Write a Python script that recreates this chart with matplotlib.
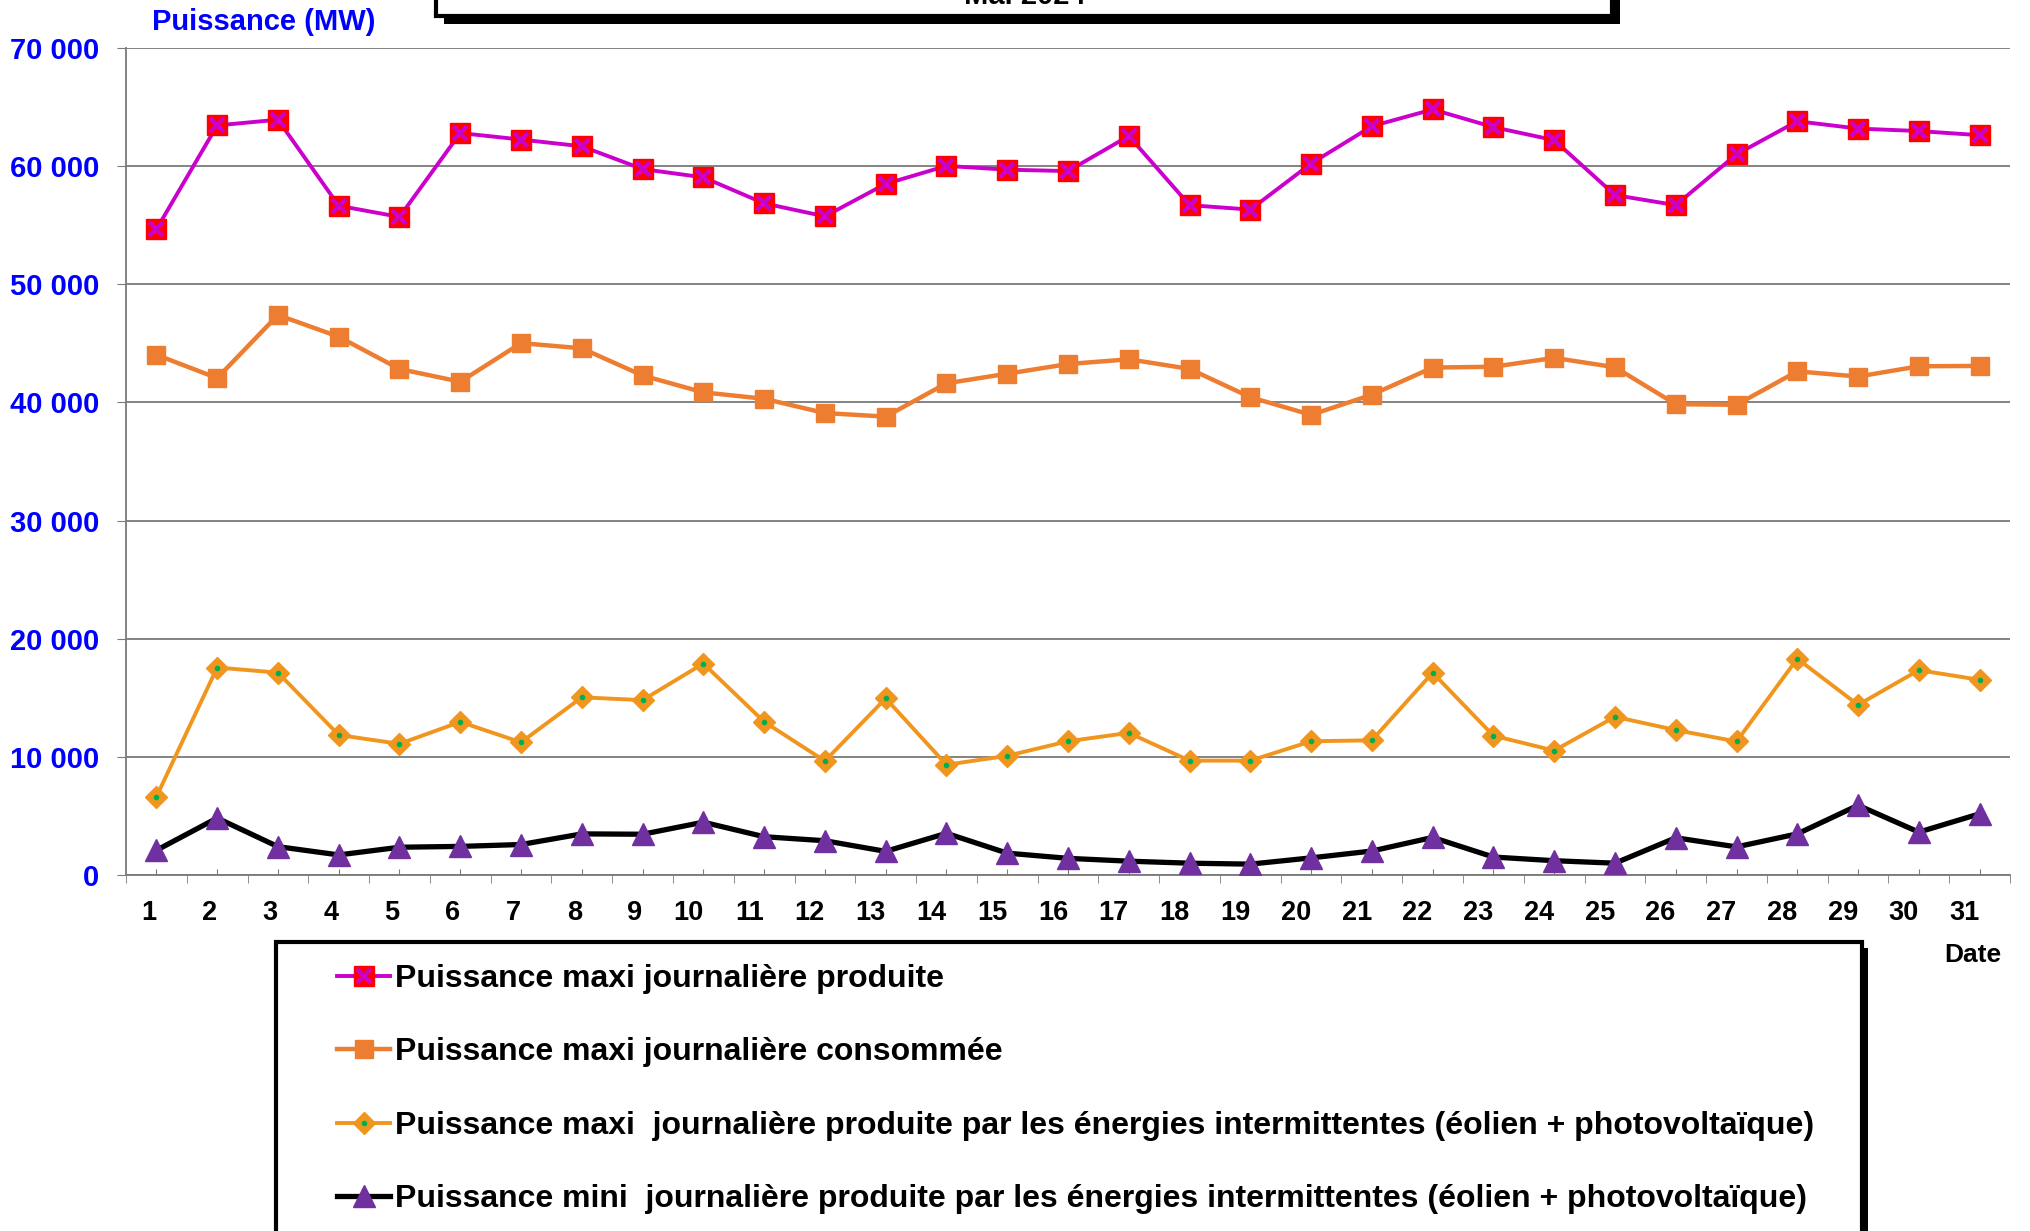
import numpy as np
import matplotlib.pyplot as plt
from matplotlib.patches import Rectangle
from matplotlib.legend_handler import HandlerTuple

plt.rcParams['font.family'] = ['Liberation Sans', 'DejaVu Sans']
plt.rcParams['font.weight'] = 'bold'

W, H = 2030, 1231

days = list(range(1, 32))
# puissance maxi journaliere produite (MW)
prod_max = [54650, 63450, 63930, 56650, 55700, 62800, 62250, 61680, 59750, 59050,
            56850, 55750, 58500, 60020, 59700, 59580, 62550, 56700, 56320, 60220,
            63380, 64800, 63300, 62200, 57550, 56700, 61000, 63800, 63180, 62970, 62620]
# puissance maxi journaliere consommee
cons_max = [44030, 42060, 47400, 45560, 42830, 41750, 45020, 44580, 42280, 40850,
            40310, 39100, 38800, 41620, 42430, 43250, 43650, 42840, 40440, 38950,
            40650, 42950, 43020, 43770, 42980, 39850, 39800, 42630, 42190, 43060, 43090]
# maxi intermittentes (eolien + PV)
inter_max = [6620, 17560, 17130, 11850, 11100, 12960, 11230, 15040, 14800, 17900,
             12970, 9650, 14950, 9330, 10090, 11320, 12030, 9680, 9680, 11320,
             11400, 17120, 11790, 10530, 13390, 12270, 11300, 18310, 14400, 17340, 16520]
# mini intermittentes
inter_min = [2090, 4820, 2400, 1700, 2350, 2420, 2580, 3480, 3450, 4470,
             3240, 2900, 2000, 3530, 1850, 1410, 1170, 1000, 920, 1450,
             2030, 3180, 1520, 1210, 1000, 3150, 2380, 3480, 5900, 3630, 5180]

labels = ['Puissance maxi journalière produite',
          'Puissance maxi journalière consommée',
          'Puissance maxi  journalière produite par les énergies intermittentes (éolien + photovoltaïque)',
          'Puissance mini  journalière produite par les énergies intermittentes (éolien + photovoltaïque)']

def fx(px):
    return px / W

def fy(px):
    return 1 - px / H

fig = plt.figure(figsize=(W / 100, H / 100), dpi=100)
ax = fig.add_axes([fx(126), fy(875), fx(2010) - fx(126), fy(48) - fy(875)])

grey = '#7a7a7a'
ax.set_xlim(0.5, 31.5)
ax.set_ylim(0, 70000)
ax.set_yticks(range(0, 70001, 10000))
ax.set_yticklabels([f"{v:,}".replace(",", " ") for v in range(0, 70001, 10000)])
ax.yaxis.grid(True, color=grey, lw=1.3)
ax.set_axisbelow(True)
for s in ['top', 'right']:
    ax.spines[s].set_visible(False)
for s in ['left', 'bottom']:
    ax.spines[s].set_color(grey)
    ax.spines[s].set_linewidth(1.3)

ax.set_xticks(days)
ax.set_xticklabels([str(d) for d in days])
ax.set_xticks(np.arange(0.5, 32, 1), minor=True)
ax.tick_params(axis='x', which='major', direction='in', length=4, color=grey,
               labelsize=19.5, pad=18)
ax.tick_params(axis='x', which='minor', direction='out', length=6, color=grey)
for lbl in ax.get_xticklabels():
    lbl.set_ha('right')
ax.tick_params(axis='y', direction='out', length=6.5, color=grey,
               labelcolor='#0000FF', labelsize=21, pad=13)

# series
l1a, = ax.plot(days, prod_max, color='#CC00CC', lw=2.8, marker='s', ms=14,
               mfc='#FF0000', mec='#FF0000', zorder=3)
l1b, = ax.plot(days, prod_max, ls='none', marker='x', ms=10, mew=3,
               color='#CC00CC', zorder=4)
l2, = ax.plot(days, cons_max, color='#ED7D31', lw=3.2, marker='s', ms=13.5,
              zorder=3)
l3a, = ax.plot(days, inter_max, color='#F0961E', lw=2.8, marker='D', ms=11.5,
               zorder=3)
l3b, = ax.plot(days, inter_max, ls='none', marker='o', ms=3,
               color='#00B050', zorder=4)
l4, = ax.plot(days, inter_min, color='black', lw=3.8, marker='^', ms=15.5,
              mfc='#7030A0', mec='#7030A0', zorder=3)

# text
fig.text(fx(152), fy(22), 'Puissance (MW)', color='#0000FF', fontsize=21,
         ha='left', va='center')
fig.text(fx(1973), fy(955), 'Date', fontsize=19, ha='center', va='center')

# boxes with shadow
def box(x0, x1, ytop, ybot, sh):
    fig.patches.append(Rectangle((fx(x0 + sh), fy(ybot + sh)), fx(x1 - x0),
                                 fy(ytop) - fy(ybot), transform=fig.transFigure,
                                 facecolor='black', edgecolor='black', lw=0))
    fig.patches.append(Rectangle((fx(x0), fy(ybot)), fx(x1 - x0),
                                 fy(ytop) - fy(ybot), transform=fig.transFigure,
                                 facecolor='white', edgecolor='black', lw=3))

box(436, 1612, -100, 16, 8)
fig.text(fx(1025), fy(4), 'Mai 2024', fontsize=21, ha='center', va='baseline')

box(276, 1862, 942, 1330, 6)

leg = fig.legend([(l1a, l1b), l2, (l3a, l3b), l4], labels,
                 handler_map={tuple: HandlerTuple(ndivide=1)},
                 loc='upper left', bbox_to_anchor=(fx(321), fy(948)),
                 frameon=False, borderpad=0, numpoints=1, fontsize=23,
                 handlelength=1.67, handletextpad=0.16, labelspacing=1.36)

fig.savefig('out.png', dpi=100)
